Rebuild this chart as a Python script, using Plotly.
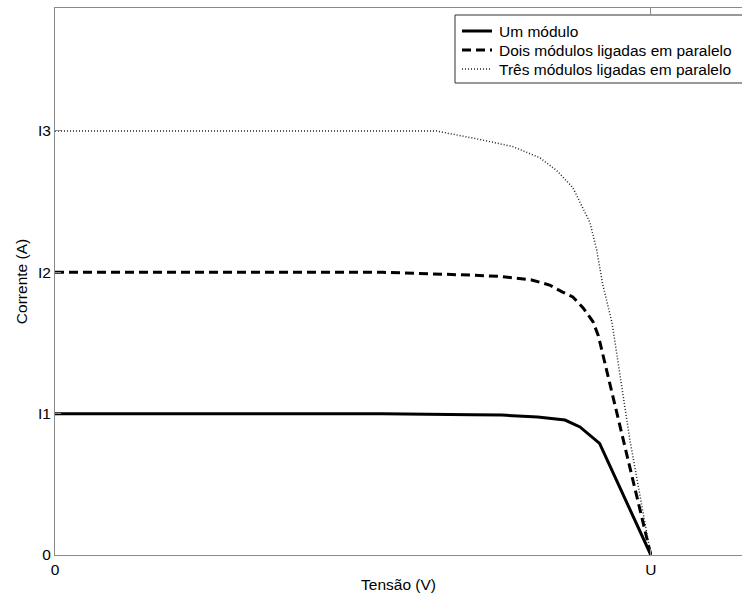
import plotly.graph_objects as go

# I-V curves of PV modules (voltage normalized to U, currents to I1..I3)
v_one = [0, 0.30, 0.55, 0.70, 0.75, 0.81, 0.856, 0.881, 0.914, 1.0]
i_one = [1, 1, 1, 0.993, 0.99, 0.977, 0.955, 0.906, 0.79, 0]

v_two = [0, 0.55, 0.70, 0.75, 0.80, 0.83, 0.852, 0.869, 0.886, 0.903, 0.912, 1.0]
i_two = [2, 2, 1.98, 1.97, 1.946, 1.91, 1.86, 1.826, 1.75, 1.65, 1.55, 0]

v_three = [0, 0.64, 0.713, 0.768, 0.814, 0.842, 0.869, 0.898, 0.909, 0.919, 0.935, 0.965, 0.993, 1.0]
i_three = [3, 3, 2.94, 2.89, 2.81, 2.72, 2.60, 2.35, 2.16, 1.92, 1.64, 0.81, 0.16, 0]

names = ["Um módulo",
         "Dois módulos ligadas em paralelo",
         "Três módulos ligadas em paralelo"]

x_tickvals = [0, 1]
x_ticktext = ["0", "U"]
y_tickvals = [0, 1, 2, 3]
y_ticktext = ["0", "I1", "I2", "I3"]

W, H = 742, 601
M_L, M_R, M_T, M_B = 55, 0, 8, 46
PLOT_W = W - M_L - M_R
PLOT_H = H - M_T - M_B

font = dict(family="Liberation Sans, Arial, sans-serif", size=15.5, color="black")

styles = [
    dict(color="black", width=3),
    dict(color="black", width=3, dash="9px,5px"),
    dict(color="#222222", width=1.5, dash="1px,2px"),
]

fig = go.Figure()
for vx, iy, nm, st in zip([v_one, v_two, v_three], [i_one, i_two, i_three], names, styles):
    fig.add_trace(go.Scatter(x=vx, y=iy, mode="lines", name=nm, line=st,
                             showlegend=False))

axis_common = dict(showline=True, linecolor="#8a8a8a", linewidth=1,
                   ticks="inside", ticklen=6,
                   tickcolor="#8a8a8a", showgrid=False, zeroline=False,
                   tickfont=font)

# x axis mirrored to draw the top frame; the right frame edge lies outside
fig.update_xaxes(range=[0, 1.153], tickvals=x_tickvals, ticktext=x_ticktext,
                 mirror="ticks",
                 title=dict(text="Tensão (V)", font=font, standoff=2),
                 **axis_common)
fig.update_yaxes(range=[0, 3.87], tickvals=y_tickvals, ticktext=y_ticktext,
                 mirror=False,
                 title=dict(text="Corrente (A)", font=font, standoff=6),
                 **axis_common)


def px_x(px):
    return (px - M_L) / PLOT_W


def px_y(py):
    return (H - M_B - py) / PLOT_H


# compact legend box in the top-right corner, drawn with shapes + text
box_left, box_top, box_bottom = 455, 15, 83
row_y = [31, 50, 69]
sample_x0, sample_x1, text_x = 462, 492, 497

fig.add_shape(type="rect", xref="paper", yref="paper",
              x0=px_x(box_left), x1=px_x(W + 5), y0=px_y(box_bottom), y1=px_y(box_top),
              line=dict(color="#333333", width=1), fillcolor="white", layer="above")
for nm, st, ry in zip(names, styles, row_y):
    fig.add_shape(type="line", xref="paper", yref="paper",
                  x0=px_x(sample_x0), x1=px_x(sample_x1), y0=px_y(ry), y1=px_y(ry),
                  line=st, layer="above")
    fig.add_annotation(text=nm, xref="paper", yref="paper",
                       x=px_x(text_x), y=px_y(ry), xanchor="left", yanchor="middle",
                       showarrow=False, font=font)

fig.update_layout(
    width=W, height=H,
    margin=dict(l=M_L, r=M_R, t=M_T, b=M_B),
    paper_bgcolor="white", plot_bgcolor="white",
    font=font,
    showlegend=False,
)

fig.write_html("out.html")
